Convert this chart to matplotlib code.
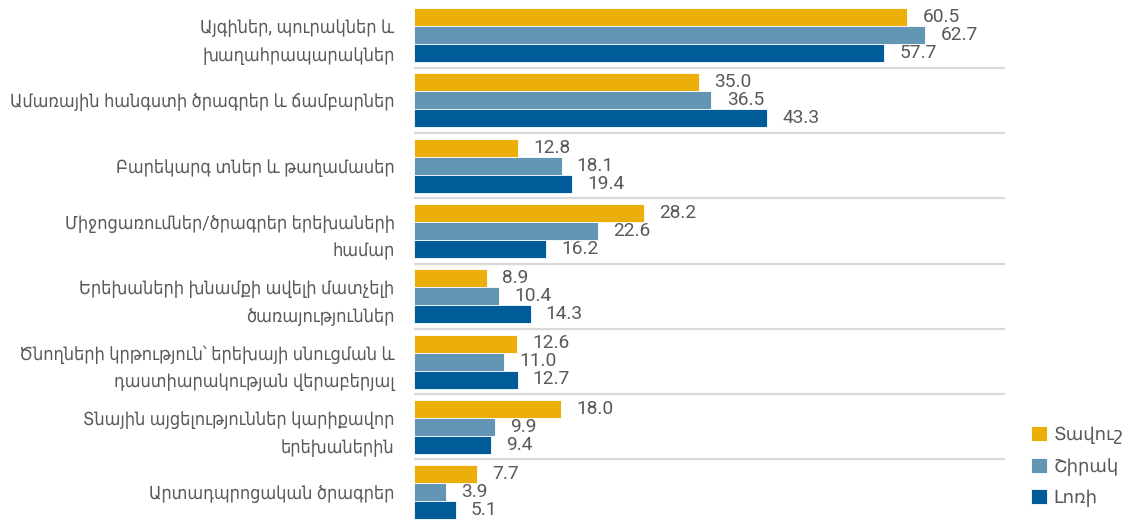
import matplotlib
matplotlib.use("Agg")
import matplotlib.pyplot as plt
import numpy as np

plt.rcParams['font.family'] = ['Roboto', 'DejaVu Sans']

categories = [
    "Այգիներ, պուրակներ և\nխաղահրապարակներ",
    "Ամառային հանգստի ծրագրեր և ճամբարներ",
    "Բարեկարգ տներ և թաղամասեր",
    "Միջոցառումներ/ծրագրեր երեխաների\nհամար",
    "Երեխաների խնամքի ավելի մատչելի\nծառայություններ",
    "Ծնողների կրթություն՝ երեխայի սնուցման և\nդաստիարակության վերաբերյալ",
    "Տնային այցելություններ կարիքավոր\nերեխաներին",
    "Արտադպրոցական ծրագրեր",
]
series_names = ["Տավուշ", "Շիրակ", "Լոռի"]
tavush = [60.5, 35.0, 12.8, 28.2, 8.9, 12.6, 18.0, 7.7]
shirak = [62.7, 36.5, 18.1, 22.6, 10.4, 11.0, 9.9, 3.9]
lori = [57.7, 43.3, 19.4, 16.2, 14.3, 12.7, 9.4, 5.1]

colors = ["#ECAE08", "#6396B4", "#005C99"]
text_gray = "#595959"

W, H = 1122, 523
fig = plt.figure(figsize=(W / 100, H / 100), dpi=100)
ax_left, ax_right = 414, 1005
ax = fig.add_axes([ax_left / W, 0, (ax_right - ax_left) / W, 1])

pitch = 65.3
first_center = 35
ax.set_ylim((H - first_center) / pitch, -first_center / pitch)
ax.set_xlim(0, (ax_right - ax_left) / 8.15)

y = np.arange(len(categories))
h = 18 / pitch
for k, (vals, name, col) in enumerate(zip([tavush, shirak, lori], series_names, colors)):
    pos = y + (k - 1) * h
    ax.barh(pos, vals, height=h, color=col, edgecolor="white",
            linewidth=0.6, label=name)
    for yy, v in zip(pos, vals):
        ax.annotate(f"{v:.1f}", xy=(v, yy), xytext=(11, 0),
                    textcoords="offset points", va="center", ha="left",
                    fontsize=13.8, color=text_gray)

# separators between groups
for i in range(len(categories) - 1):
    ax.axhline(i + 0.5, color="#d9d9d9", linewidth=1.6, zorder=0)

ax.set_yticks(y)
ax.set_yticklabels(categories, fontsize=13, color=text_gray, linespacing=1.7,
                   fontstretch="condensed")
ax.tick_params(axis="y", length=0, pad=14)
ax.set_xticks([])
for s in ax.spines.values():
    s.set_visible(False)

fig.legend(loc="upper left", bbox_to_anchor=(1031 / W, 1 - 426 / H),
           frameon=False, fontsize=13, handlelength=0.9, handleheight=0.9,
           handletextpad=0.35, labelspacing=0.75, labelcolor=text_gray,
           borderaxespad=0, borderpad=0)

fig.savefig("out.png", dpi=100)
